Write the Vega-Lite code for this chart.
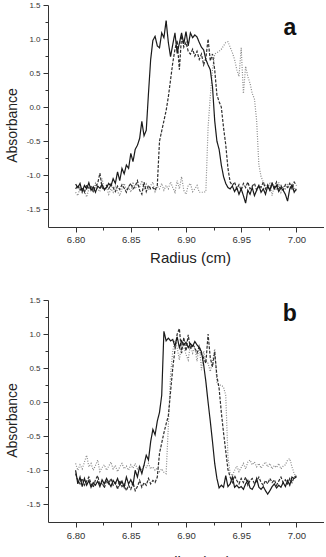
{
  "$schema": "https://vega.github.io/schema/vega-lite/v6.json",
  "background": "white",
  "padding": {"left": 5, "top": 1, "right": 0, "bottom": 0},
  "spacing": 73,
  "bounds": "flush",
  "config": {
    "view": {"stroke": null},
    "font": "Liberation Sans",
    "axis": {
      "grid": false,
      "domainColor": "#333333",
      "tickColor": "#333333",
      "labelColor": "#333333",
      "titleColor": "#222222",
      "labelFont": "Liberation Sans",
      "titleFont": "Liberation Sans",
      "titleFontWeight": "normal",
      "domainWidth": 1,
      "tickWidth": 1,
      "labelFlush": false,
      "labelOverlap": false
    }
  },
  "datasets": {
    "scans": [
      {"p":"a","s":"dotted","r":6.800,"v":-1.25},{"p":"a","s":"dotted","r":6.802,"v":-1.30},{"p":"a","s":"dotted","r":6.804,"v":-1.18},{"p":"a","s":"dotted","r":6.806,"v":-1.26},{"p":"a","s":"dotted","r":6.808,"v":-1.22},{"p":"a","s":"dotted","r":6.810,"v":-1.32},{"p":"a","s":"dotted","r":6.812,"v":-1.20},{"p":"a","s":"dotted","r":6.814,"v":-1.15},{"p":"a","s":"dotted","r":6.816,"v":-1.25},{"p":"a","s":"dotted","r":6.818,"v":-1.12},
      {"p":"a","s":"dotted","r":6.820,"v":-1.20},{"p":"a","s":"dotted","r":6.822,"v":-1.24},{"p":"a","s":"dotted","r":6.824,"v":-1.05},{"p":"a","s":"dotted","r":6.826,"v":-1.22},{"p":"a","s":"dotted","r":6.828,"v":-1.18},{"p":"a","s":"dotted","r":6.830,"v":-1.28},{"p":"a","s":"dotted","r":6.832,"v":-1.20},{"p":"a","s":"dotted","r":6.834,"v":-1.25},{"p":"a","s":"dotted","r":6.836,"v":-1.15},{"p":"a","s":"dotted","r":6.838,"v":-1.24},
      {"p":"a","s":"dotted","r":6.840,"v":-1.30},{"p":"a","s":"dotted","r":6.842,"v":-1.20},{"p":"a","s":"dotted","r":6.844,"v":-1.12},{"p":"a","s":"dotted","r":6.846,"v":-1.22},{"p":"a","s":"dotted","r":6.848,"v":-1.17},{"p":"a","s":"dotted","r":6.850,"v":-1.25},{"p":"a","s":"dotted","r":6.852,"v":-1.10},{"p":"a","s":"dotted","r":6.854,"v":-1.20},{"p":"a","s":"dotted","r":6.856,"v":-1.14},{"p":"a","s":"dotted","r":6.858,"v":-1.18},
      {"p":"a","s":"dotted","r":6.860,"v":-1.08},{"p":"a","s":"dotted","r":6.862,"v":-1.20},{"p":"a","s":"dotted","r":6.864,"v":-1.13},{"p":"a","s":"dotted","r":6.866,"v":-1.22},{"p":"a","s":"dotted","r":6.868,"v":-1.15},{"p":"a","s":"dotted","r":6.870,"v":-1.10},{"p":"a","s":"dotted","r":6.872,"v":-1.24},{"p":"a","s":"dotted","r":6.874,"v":-1.16},{"p":"a","s":"dotted","r":6.876,"v":-1.20},{"p":"a","s":"dotted","r":6.878,"v":-1.12},
      {"p":"a","s":"dotted","r":6.880,"v":-1.22},{"p":"a","s":"dotted","r":6.882,"v":-1.15},{"p":"a","s":"dotted","r":6.884,"v":-1.20},{"p":"a","s":"dotted","r":6.886,"v":-1.10},{"p":"a","s":"dotted","r":6.888,"v":-1.18},{"p":"a","s":"dotted","r":6.890,"v":-1.25},{"p":"a","s":"dotted","r":6.892,"v":-1.08},{"p":"a","s":"dotted","r":6.894,"v":-1.20},{"p":"a","s":"dotted","r":6.896,"v":-1.02},{"p":"a","s":"dotted","r":6.898,"v":-1.22},
      {"p":"a","s":"dotted","r":6.900,"v":-1.28},{"p":"a","s":"dotted","r":6.902,"v":-1.15},{"p":"a","s":"dotted","r":6.904,"v":-1.12},{"p":"a","s":"dotted","r":6.906,"v":-1.24},{"p":"a","s":"dotted","r":6.908,"v":-1.20},{"p":"a","s":"dotted","r":6.910,"v":-1.15},{"p":"a","s":"dotted","r":6.912,"v":-1.25},{"p":"a","s":"dotted","r":6.914,"v":-1.25},{"p":"a","s":"dotted","r":6.916,"v":-1.25},{"p":"a","s":"dotted","r":6.918,"v":-1.24},
      {"p":"a","s":"dotted","r":6.920,"v":-0.30},{"p":"a","s":"dotted","r":6.922,"v":0.16},{"p":"a","s":"dotted","r":6.924,"v":0.55},{"p":"a","s":"dotted","r":6.926,"v":0.78},{"p":"a","s":"dotted","r":6.928,"v":0.80},{"p":"a","s":"dotted","r":6.930,"v":0.82},{"p":"a","s":"dotted","r":6.932,"v":0.85},{"p":"a","s":"dotted","r":6.934,"v":0.90},{"p":"a","s":"dotted","r":6.936,"v":0.95},{"p":"a","s":"dotted","r":6.938,"v":0.96},
      {"p":"a","s":"dotted","r":6.940,"v":0.88},{"p":"a","s":"dotted","r":6.942,"v":0.80},{"p":"a","s":"dotted","r":6.944,"v":0.70},{"p":"a","s":"dotted","r":6.946,"v":0.55},{"p":"a","s":"dotted","r":6.948,"v":0.45},{"p":"a","s":"dotted","r":6.950,"v":0.87},{"p":"a","s":"dotted","r":6.952,"v":0.20},{"p":"a","s":"dotted","r":6.954,"v":0.60},{"p":"a","s":"dotted","r":6.956,"v":0.45},{"p":"a","s":"dotted","r":6.958,"v":0.35},
      {"p":"a","s":"dotted","r":6.960,"v":0.20},{"p":"a","s":"dotted","r":6.962,"v":0.12},{"p":"a","s":"dotted","r":6.964,"v":-0.20},{"p":"a","s":"dotted","r":6.966,"v":-0.85},{"p":"a","s":"dotted","r":6.968,"v":-1.02},{"p":"a","s":"dotted","r":6.970,"v":-1.10},{"p":"a","s":"dotted","r":6.972,"v":-1.15},{"p":"a","s":"dotted","r":6.974,"v":-1.18},{"p":"a","s":"dotted","r":6.976,"v":-1.12},{"p":"a","s":"dotted","r":6.978,"v":-1.30},
      {"p":"a","s":"dotted","r":6.980,"v":-1.15},{"p":"a","s":"dotted","r":6.982,"v":-1.22},{"p":"a","s":"dotted","r":6.984,"v":-1.10},{"p":"a","s":"dotted","r":6.986,"v":-1.25},{"p":"a","s":"dotted","r":6.988,"v":-1.16},{"p":"a","s":"dotted","r":6.990,"v":-1.20},{"p":"a","s":"dotted","r":6.992,"v":-1.12},{"p":"a","s":"dotted","r":6.994,"v":-1.22},{"p":"a","s":"dotted","r":6.996,"v":-1.15},{"p":"a","s":"dotted","r":6.998,"v":-1.18},
      {"p":"a","s":"dotted","r":7.000,"v":-1.24},

      {"p":"a","s":"dashed","r":6.800,"v":-1.20},{"p":"a","s":"dashed","r":6.802,"v":-1.15},{"p":"a","s":"dashed","r":6.804,"v":-1.22},{"p":"a","s":"dashed","r":6.806,"v":-1.18},{"p":"a","s":"dashed","r":6.808,"v":-1.25},{"p":"a","s":"dashed","r":6.810,"v":-1.14},{"p":"a","s":"dashed","r":6.812,"v":-1.20},{"p":"a","s":"dashed","r":6.814,"v":-1.17},{"p":"a","s":"dashed","r":6.816,"v":-1.24},{"p":"a","s":"dashed","r":6.818,"v":-1.16},
      {"p":"a","s":"dashed","r":6.820,"v":-1.12},{"p":"a","s":"dashed","r":6.822,"v":-0.97},{"p":"a","s":"dashed","r":6.824,"v":-1.18},{"p":"a","s":"dashed","r":6.826,"v":-1.22},{"p":"a","s":"dashed","r":6.828,"v":-1.15},{"p":"a","s":"dashed","r":6.830,"v":-1.20},{"p":"a","s":"dashed","r":6.832,"v":-1.13},{"p":"a","s":"dashed","r":6.834,"v":-1.18},{"p":"a","s":"dashed","r":6.836,"v":-1.24},{"p":"a","s":"dashed","r":6.838,"v":-1.16},
      {"p":"a","s":"dashed","r":6.840,"v":-1.21},{"p":"a","s":"dashed","r":6.842,"v":-1.14},{"p":"a","s":"dashed","r":6.844,"v":-1.19},{"p":"a","s":"dashed","r":6.846,"v":-1.25},{"p":"a","s":"dashed","r":6.848,"v":-1.17},{"p":"a","s":"dashed","r":6.850,"v":-1.12},{"p":"a","s":"dashed","r":6.852,"v":-1.20},{"p":"a","s":"dashed","r":6.854,"v":-1.16},{"p":"a","s":"dashed","r":6.856,"v":-1.08},{"p":"a","s":"dashed","r":6.858,"v":-1.22},
      {"p":"a","s":"dashed","r":6.860,"v":-1.28},{"p":"a","s":"dashed","r":6.862,"v":-1.10},{"p":"a","s":"dashed","r":6.864,"v":-1.24},{"p":"a","s":"dashed","r":6.866,"v":-1.15},{"p":"a","s":"dashed","r":6.868,"v":-1.20},{"p":"a","s":"dashed","r":6.870,"v":-1.18},{"p":"a","s":"dashed","r":6.872,"v":-1.22},{"p":"a","s":"dashed","r":6.874,"v":-1.15},{"p":"a","s":"dashed","r":6.876,"v":-0.50},{"p":"a","s":"dashed","r":6.878,"v":-0.35},
      {"p":"a","s":"dashed","r":6.880,"v":-0.20},{"p":"a","s":"dashed","r":6.882,"v":-0.05},{"p":"a","s":"dashed","r":6.884,"v":0.15},{"p":"a","s":"dashed","r":6.886,"v":0.40},{"p":"a","s":"dashed","r":6.888,"v":0.65},{"p":"a","s":"dashed","r":6.890,"v":0.85},{"p":"a","s":"dashed","r":6.892,"v":0.98},{"p":"a","s":"dashed","r":6.894,"v":0.55},{"p":"a","s":"dashed","r":6.896,"v":1.05},{"p":"a","s":"dashed","r":6.898,"v":0.88},
      {"p":"a","s":"dashed","r":6.900,"v":0.95},{"p":"a","s":"dashed","r":6.902,"v":0.82},{"p":"a","s":"dashed","r":6.904,"v":0.78},{"p":"a","s":"dashed","r":6.906,"v":0.85},{"p":"a","s":"dashed","r":6.908,"v":0.75},{"p":"a","s":"dashed","r":6.910,"v":0.82},{"p":"a","s":"dashed","r":6.912,"v":0.70},{"p":"a","s":"dashed","r":6.914,"v":0.78},{"p":"a","s":"dashed","r":6.916,"v":0.62},{"p":"a","s":"dashed","r":6.918,"v":0.72},
      {"p":"a","s":"dashed","r":6.920,"v":1.00},{"p":"a","s":"dashed","r":6.922,"v":0.68},{"p":"a","s":"dashed","r":6.924,"v":0.78},{"p":"a","s":"dashed","r":6.926,"v":0.55},{"p":"a","s":"dashed","r":6.928,"v":0.18},{"p":"a","s":"dashed","r":6.930,"v":0.08},{"p":"a","s":"dashed","r":6.932,"v":0.00},{"p":"a","s":"dashed","r":6.934,"v":-0.30},{"p":"a","s":"dashed","r":6.936,"v":-0.55},{"p":"a","s":"dashed","r":6.938,"v":-0.90},
      {"p":"a","s":"dashed","r":6.940,"v":-1.10},{"p":"a","s":"dashed","r":6.942,"v":-1.15},{"p":"a","s":"dashed","r":6.944,"v":-1.10},{"p":"a","s":"dashed","r":6.946,"v":-1.20},{"p":"a","s":"dashed","r":6.948,"v":-1.14},{"p":"a","s":"dashed","r":6.950,"v":-1.22},{"p":"a","s":"dashed","r":6.952,"v":-1.12},{"p":"a","s":"dashed","r":6.954,"v":-1.18},{"p":"a","s":"dashed","r":6.956,"v":-1.10},{"p":"a","s":"dashed","r":6.958,"v":-1.20},
      {"p":"a","s":"dashed","r":6.960,"v":-1.16},{"p":"a","s":"dashed","r":6.962,"v":-1.12},{"p":"a","s":"dashed","r":6.964,"v":-1.22},{"p":"a","s":"dashed","r":6.966,"v":-1.15},{"p":"a","s":"dashed","r":6.968,"v":-1.18},{"p":"a","s":"dashed","r":6.970,"v":-1.10},{"p":"a","s":"dashed","r":6.972,"v":-1.20},{"p":"a","s":"dashed","r":6.974,"v":-1.14},{"p":"a","s":"dashed","r":6.976,"v":-1.22},{"p":"a","s":"dashed","r":6.978,"v":-1.12},
      {"p":"a","s":"dashed","r":6.980,"v":-1.18},{"p":"a","s":"dashed","r":6.982,"v":-1.10},{"p":"a","s":"dashed","r":6.984,"v":-1.20},{"p":"a","s":"dashed","r":6.986,"v":-1.15},{"p":"a","s":"dashed","r":6.988,"v":-1.22},{"p":"a","s":"dashed","r":6.990,"v":-1.14},{"p":"a","s":"dashed","r":6.992,"v":-1.18},{"p":"a","s":"dashed","r":6.994,"v":-1.12},{"p":"a","s":"dashed","r":6.996,"v":-1.20},{"p":"a","s":"dashed","r":6.998,"v":-1.10},
      {"p":"a","s":"dashed","r":7.000,"v":-1.15},

      {"p":"a","s":"solid","r":6.800,"v":-1.13},{"p":"a","s":"solid","r":6.802,"v":-1.18},{"p":"a","s":"solid","r":6.804,"v":-1.12},{"p":"a","s":"solid","r":6.806,"v":-1.24},{"p":"a","s":"solid","r":6.808,"v":-1.15},{"p":"a","s":"solid","r":6.810,"v":-1.20},{"p":"a","s":"solid","r":6.812,"v":-1.11},{"p":"a","s":"solid","r":6.814,"v":-1.22},{"p":"a","s":"solid","r":6.816,"v":-1.17},{"p":"a","s":"solid","r":6.818,"v":-1.25},
      {"p":"a","s":"solid","r":6.820,"v":-1.16},{"p":"a","s":"solid","r":6.822,"v":-1.19},{"p":"a","s":"solid","r":6.824,"v":-1.14},{"p":"a","s":"solid","r":6.826,"v":-1.21},{"p":"a","s":"solid","r":6.828,"v":-1.18},{"p":"a","s":"solid","r":6.830,"v":-1.12},{"p":"a","s":"solid","r":6.832,"v":-1.16},{"p":"a","s":"solid","r":6.834,"v":-1.05},{"p":"a","s":"solid","r":6.836,"v":-1.12},{"p":"a","s":"solid","r":6.838,"v":-0.95},
      {"p":"a","s":"solid","r":6.840,"v":-1.08},{"p":"a","s":"solid","r":6.842,"v":-0.90},{"p":"a","s":"solid","r":6.844,"v":-0.98},{"p":"a","s":"solid","r":6.846,"v":-0.85},{"p":"a","s":"solid","r":6.848,"v":-0.90},{"p":"a","s":"solid","r":6.850,"v":-0.68},{"p":"a","s":"solid","r":6.852,"v":-0.80},{"p":"a","s":"solid","r":6.854,"v":-0.62},{"p":"a","s":"solid","r":6.856,"v":-0.56},{"p":"a","s":"solid","r":6.858,"v":-0.46},
      {"p":"a","s":"solid","r":6.860,"v":-0.21},{"p":"a","s":"solid","r":6.862,"v":-0.42},{"p":"a","s":"solid","r":6.864,"v":-0.34},{"p":"a","s":"solid","r":6.866,"v":0.20},{"p":"a","s":"solid","r":6.868,"v":0.70},{"p":"a","s":"solid","r":6.870,"v":0.98},{"p":"a","s":"solid","r":6.872,"v":1.04},{"p":"a","s":"solid","r":6.874,"v":0.90},{"p":"a","s":"solid","r":6.876,"v":0.87},{"p":"a","s":"solid","r":6.878,"v":1.09},
      {"p":"a","s":"solid","r":6.880,"v":1.02},{"p":"a","s":"solid","r":6.882,"v":1.27},{"p":"a","s":"solid","r":6.884,"v":0.95},{"p":"a","s":"solid","r":6.886,"v":0.74},{"p":"a","s":"solid","r":6.888,"v":0.92},{"p":"a","s":"solid","r":6.890,"v":1.09},{"p":"a","s":"solid","r":6.892,"v":0.79},{"p":"a","s":"solid","r":6.894,"v":0.94},{"p":"a","s":"solid","r":6.896,"v":1.09},{"p":"a","s":"solid","r":6.898,"v":0.93},
      {"p":"a","s":"solid","r":6.900,"v":1.11},{"p":"a","s":"solid","r":6.902,"v":0.90},{"p":"a","s":"solid","r":6.904,"v":1.09},{"p":"a","s":"solid","r":6.906,"v":1.02},{"p":"a","s":"solid","r":6.908,"v":1.06},{"p":"a","s":"solid","r":6.910,"v":1.03},{"p":"a","s":"solid","r":6.912,"v":0.95},{"p":"a","s":"solid","r":6.914,"v":0.88},{"p":"a","s":"solid","r":6.916,"v":0.84},{"p":"a","s":"solid","r":6.918,"v":0.70},
      {"p":"a","s":"solid","r":6.920,"v":0.62},{"p":"a","s":"solid","r":6.922,"v":0.55},{"p":"a","s":"solid","r":6.924,"v":0.30},{"p":"a","s":"solid","r":6.926,"v":-0.20},{"p":"a","s":"solid","r":6.928,"v":-0.50},{"p":"a","s":"solid","r":6.930,"v":-0.62},{"p":"a","s":"solid","r":6.932,"v":-0.85},{"p":"a","s":"solid","r":6.934,"v":-1.02},{"p":"a","s":"solid","r":6.936,"v":-1.12},{"p":"a","s":"solid","r":6.938,"v":-1.18},
      {"p":"a","s":"solid","r":6.940,"v":-1.20},{"p":"a","s":"solid","r":6.942,"v":-1.16},{"p":"a","s":"solid","r":6.944,"v":-1.24},{"p":"a","s":"solid","r":6.946,"v":-1.18},{"p":"a","s":"solid","r":6.948,"v":-1.28},{"p":"a","s":"solid","r":6.950,"v":-1.20},{"p":"a","s":"solid","r":6.952,"v":-1.30},{"p":"a","s":"solid","r":6.954,"v":-1.41},{"p":"a","s":"solid","r":6.956,"v":-1.22},{"p":"a","s":"solid","r":6.958,"v":-1.28},
      {"p":"a","s":"solid","r":6.960,"v":-1.18},{"p":"a","s":"solid","r":6.962,"v":-1.30},{"p":"a","s":"solid","r":6.964,"v":-1.22},{"p":"a","s":"solid","r":6.966,"v":-1.15},{"p":"a","s":"solid","r":6.968,"v":-1.25},{"p":"a","s":"solid","r":6.970,"v":-1.20},{"p":"a","s":"solid","r":6.972,"v":-1.28},{"p":"a","s":"solid","r":6.974,"v":-1.16},{"p":"a","s":"solid","r":6.976,"v":-1.22},{"p":"a","s":"solid","r":6.978,"v":-1.12},
      {"p":"a","s":"solid","r":6.980,"v":-1.20},{"p":"a","s":"solid","r":6.982,"v":-1.15},{"p":"a","s":"solid","r":6.984,"v":-1.24},{"p":"a","s":"solid","r":6.986,"v":-1.18},{"p":"a","s":"solid","r":6.988,"v":-1.22},{"p":"a","s":"solid","r":6.990,"v":-1.28},{"p":"a","s":"solid","r":6.992,"v":-1.38},{"p":"a","s":"solid","r":6.994,"v":-1.20},{"p":"a","s":"solid","r":6.996,"v":-1.14},{"p":"a","s":"solid","r":6.998,"v":-1.25},
      {"p":"a","s":"solid","r":7.000,"v":-1.20},

      {"p":"b","s":"dotted","r":6.800,"v":-0.90},{"p":"b","s":"dotted","r":6.802,"v":-1.00},{"p":"b","s":"dotted","r":6.804,"v":-0.92},{"p":"b","s":"dotted","r":6.806,"v":-0.98},{"p":"b","s":"dotted","r":6.808,"v":-0.88},{"p":"b","s":"dotted","r":6.810,"v":-0.78},{"p":"b","s":"dotted","r":6.812,"v":-0.95},{"p":"b","s":"dotted","r":6.814,"v":-0.90},{"p":"b","s":"dotted","r":6.816,"v":-1.00},{"p":"b","s":"dotted","r":6.818,"v":-0.93},
      {"p":"b","s":"dotted","r":6.820,"v":-0.85},{"p":"b","s":"dotted","r":6.822,"v":-1.02},{"p":"b","s":"dotted","r":6.824,"v":-0.96},{"p":"b","s":"dotted","r":6.826,"v":-0.92},{"p":"b","s":"dotted","r":6.828,"v":-1.00},{"p":"b","s":"dotted","r":6.830,"v":-0.94},{"p":"b","s":"dotted","r":6.832,"v":-0.88},{"p":"b","s":"dotted","r":6.834,"v":-0.98},{"p":"b","s":"dotted","r":6.836,"v":-0.93},{"p":"b","s":"dotted","r":6.838,"v":-1.02},
      {"p":"b","s":"dotted","r":6.840,"v":-0.95},{"p":"b","s":"dotted","r":6.842,"v":-0.90},{"p":"b","s":"dotted","r":6.844,"v":-0.98},{"p":"b","s":"dotted","r":6.846,"v":-0.94},{"p":"b","s":"dotted","r":6.848,"v":-1.00},{"p":"b","s":"dotted","r":6.850,"v":-0.92},{"p":"b","s":"dotted","r":6.852,"v":-0.97},{"p":"b","s":"dotted","r":6.854,"v":-0.90},{"p":"b","s":"dotted","r":6.856,"v":-0.98},{"p":"b","s":"dotted","r":6.858,"v":-0.94},
      {"p":"b","s":"dotted","r":6.860,"v":-1.00},{"p":"b","s":"dotted","r":6.862,"v":-0.92},{"p":"b","s":"dotted","r":6.864,"v":-0.96},{"p":"b","s":"dotted","r":6.866,"v":-0.90},{"p":"b","s":"dotted","r":6.868,"v":-0.98},{"p":"b","s":"dotted","r":6.870,"v":-0.95},{"p":"b","s":"dotted","r":6.872,"v":-1.00},{"p":"b","s":"dotted","r":6.874,"v":-0.97},{"p":"b","s":"dotted","r":6.876,"v":-1.02},{"p":"b","s":"dotted","r":6.878,"v":-0.98},
      {"p":"b","s":"dotted","r":6.880,"v":-1.03},{"p":"b","s":"dotted","r":6.882,"v":-1.05},{"p":"b","s":"dotted","r":6.884,"v":-0.35},{"p":"b","s":"dotted","r":6.886,"v":0.40},{"p":"b","s":"dotted","r":6.888,"v":0.75},{"p":"b","s":"dotted","r":6.890,"v":0.91},{"p":"b","s":"dotted","r":6.892,"v":0.80},{"p":"b","s":"dotted","r":6.894,"v":0.62},{"p":"b","s":"dotted","r":6.896,"v":0.85},{"p":"b","s":"dotted","r":6.898,"v":0.81},
      {"p":"b","s":"dotted","r":6.900,"v":0.70},{"p":"b","s":"dotted","r":6.902,"v":0.62},{"p":"b","s":"dotted","r":6.904,"v":0.85},{"p":"b","s":"dotted","r":6.906,"v":0.72},{"p":"b","s":"dotted","r":6.908,"v":0.80},{"p":"b","s":"dotted","r":6.910,"v":0.60},{"p":"b","s":"dotted","r":6.912,"v":0.85},{"p":"b","s":"dotted","r":6.914,"v":0.47},{"p":"b","s":"dotted","r":6.916,"v":0.75},{"p":"b","s":"dotted","r":6.918,"v":0.60},
      {"p":"b","s":"dotted","r":6.920,"v":0.57},{"p":"b","s":"dotted","r":6.922,"v":0.45},{"p":"b","s":"dotted","r":6.924,"v":0.60},{"p":"b","s":"dotted","r":6.926,"v":0.78},{"p":"b","s":"dotted","r":6.928,"v":0.28},{"p":"b","s":"dotted","r":6.930,"v":0.25},{"p":"b","s":"dotted","r":6.932,"v":0.25},{"p":"b","s":"dotted","r":6.934,"v":0.22},{"p":"b","s":"dotted","r":6.936,"v":0.10},{"p":"b","s":"dotted","r":6.938,"v":-0.80},
      {"p":"b","s":"dotted","r":6.940,"v":-1.05},{"p":"b","s":"dotted","r":6.942,"v":-1.08},{"p":"b","s":"dotted","r":6.944,"v":-1.00},{"p":"b","s":"dotted","r":6.946,"v":-0.94},{"p":"b","s":"dotted","r":6.948,"v":-1.02},{"p":"b","s":"dotted","r":6.950,"v":-0.96},{"p":"b","s":"dotted","r":6.952,"v":-0.90},{"p":"b","s":"dotted","r":6.954,"v":-0.98},{"p":"b","s":"dotted","r":6.956,"v":-0.88},{"p":"b","s":"dotted","r":6.958,"v":-0.85},
      {"p":"b","s":"dotted","r":6.960,"v":-0.92},{"p":"b","s":"dotted","r":6.962,"v":-0.88},{"p":"b","s":"dotted","r":6.964,"v":-0.95},{"p":"b","s":"dotted","r":6.966,"v":-0.90},{"p":"b","s":"dotted","r":6.968,"v":-0.97},{"p":"b","s":"dotted","r":6.970,"v":-0.92},{"p":"b","s":"dotted","r":6.972,"v":-0.88},{"p":"b","s":"dotted","r":6.974,"v":-0.95},{"p":"b","s":"dotted","r":6.976,"v":-0.90},{"p":"b","s":"dotted","r":6.978,"v":-0.98},
      {"p":"b","s":"dotted","r":6.980,"v":-0.93},{"p":"b","s":"dotted","r":6.982,"v":-0.96},{"p":"b","s":"dotted","r":6.984,"v":-0.90},{"p":"b","s":"dotted","r":6.986,"v":-0.98},{"p":"b","s":"dotted","r":6.988,"v":-0.94},{"p":"b","s":"dotted","r":6.990,"v":-0.92},{"p":"b","s":"dotted","r":6.992,"v":-0.85},{"p":"b","s":"dotted","r":6.994,"v":-0.83},{"p":"b","s":"dotted","r":6.996,"v":-0.95},{"p":"b","s":"dotted","r":6.998,"v":-1.05},
      {"p":"b","s":"dotted","r":7.000,"v":-1.10},

      {"p":"b","s":"dashed","r":6.800,"v":-1.05},{"p":"b","s":"dashed","r":6.802,"v":-1.15},{"p":"b","s":"dashed","r":6.804,"v":-1.20},{"p":"b","s":"dashed","r":6.806,"v":-1.12},{"p":"b","s":"dashed","r":6.808,"v":-1.22},{"p":"b","s":"dashed","r":6.810,"v":-1.16},{"p":"b","s":"dashed","r":6.812,"v":-1.10},{"p":"b","s":"dashed","r":6.814,"v":-1.20},{"p":"b","s":"dashed","r":6.816,"v":-1.25},{"p":"b","s":"dashed","r":6.818,"v":-1.14},
      {"p":"b","s":"dashed","r":6.820,"v":-1.08},{"p":"b","s":"dashed","r":6.822,"v":-1.22},{"p":"b","s":"dashed","r":6.824,"v":-1.18},{"p":"b","s":"dashed","r":6.826,"v":-1.26},{"p":"b","s":"dashed","r":6.828,"v":-1.15},{"p":"b","s":"dashed","r":6.830,"v":-1.20},{"p":"b","s":"dashed","r":6.832,"v":-1.12},{"p":"b","s":"dashed","r":6.834,"v":-1.22},{"p":"b","s":"dashed","r":6.836,"v":-1.18},{"p":"b","s":"dashed","r":6.838,"v":-1.28},
      {"p":"b","s":"dashed","r":6.840,"v":-1.15},{"p":"b","s":"dashed","r":6.842,"v":-1.24},{"p":"b","s":"dashed","r":6.844,"v":-1.20},{"p":"b","s":"dashed","r":6.846,"v":-1.30},{"p":"b","s":"dashed","r":6.848,"v":-1.22},{"p":"b","s":"dashed","r":6.850,"v":-1.28},{"p":"b","s":"dashed","r":6.852,"v":-1.18},{"p":"b","s":"dashed","r":6.854,"v":-1.30},{"p":"b","s":"dashed","r":6.856,"v":-1.24},{"p":"b","s":"dashed","r":6.858,"v":-1.15},
      {"p":"b","s":"dashed","r":6.860,"v":-1.25},{"p":"b","s":"dashed","r":6.862,"v":-1.18},{"p":"b","s":"dashed","r":6.864,"v":-1.22},{"p":"b","s":"dashed","r":6.866,"v":-1.12},{"p":"b","s":"dashed","r":6.868,"v":-1.20},{"p":"b","s":"dashed","r":6.870,"v":-1.15},{"p":"b","s":"dashed","r":6.872,"v":-1.18},{"p":"b","s":"dashed","r":6.874,"v":-1.10},{"p":"b","s":"dashed","r":6.876,"v":-0.75},{"p":"b","s":"dashed","r":6.878,"v":-0.60},
      {"p":"b","s":"dashed","r":6.880,"v":-0.45},{"p":"b","s":"dashed","r":6.882,"v":-0.32},{"p":"b","s":"dashed","r":6.884,"v":-0.20},{"p":"b","s":"dashed","r":6.886,"v":0.15},{"p":"b","s":"dashed","r":6.888,"v":0.50},{"p":"b","s":"dashed","r":6.890,"v":0.77},{"p":"b","s":"dashed","r":6.892,"v":1.00},{"p":"b","s":"dashed","r":6.894,"v":1.08},{"p":"b","s":"dashed","r":6.896,"v":0.72},{"p":"b","s":"dashed","r":6.898,"v":0.95},
      {"p":"b","s":"dashed","r":6.900,"v":0.75},{"p":"b","s":"dashed","r":6.902,"v":0.99},{"p":"b","s":"dashed","r":6.904,"v":0.78},{"p":"b","s":"dashed","r":6.906,"v":0.85},{"p":"b","s":"dashed","r":6.908,"v":0.80},{"p":"b","s":"dashed","r":6.910,"v":0.72},{"p":"b","s":"dashed","r":6.912,"v":0.82},{"p":"b","s":"dashed","r":6.914,"v":0.70},{"p":"b","s":"dashed","r":6.916,"v":0.65},{"p":"b","s":"dashed","r":6.918,"v":0.57},
      {"p":"b","s":"dashed","r":6.920,"v":1.00},{"p":"b","s":"dashed","r":6.922,"v":0.65},{"p":"b","s":"dashed","r":6.924,"v":0.52},{"p":"b","s":"dashed","r":6.926,"v":0.74},{"p":"b","s":"dashed","r":6.928,"v":0.38},{"p":"b","s":"dashed","r":6.930,"v":0.20},{"p":"b","s":"dashed","r":6.932,"v":-0.15},{"p":"b","s":"dashed","r":6.934,"v":-0.45},{"p":"b","s":"dashed","r":6.936,"v":-0.72},{"p":"b","s":"dashed","r":6.938,"v":-0.99},
      {"p":"b","s":"dashed","r":6.940,"v":-1.10},{"p":"b","s":"dashed","r":6.942,"v":-1.18},{"p":"b","s":"dashed","r":6.944,"v":-1.08},{"p":"b","s":"dashed","r":6.946,"v":-1.15},{"p":"b","s":"dashed","r":6.948,"v":-1.20},{"p":"b","s":"dashed","r":6.950,"v":-1.12},{"p":"b","s":"dashed","r":6.952,"v":-1.18},{"p":"b","s":"dashed","r":6.954,"v":-1.10},{"p":"b","s":"dashed","r":6.956,"v":-1.22},{"p":"b","s":"dashed","r":6.958,"v":-1.15},
      {"p":"b","s":"dashed","r":6.960,"v":-1.12},{"p":"b","s":"dashed","r":6.962,"v":-1.20},{"p":"b","s":"dashed","r":6.964,"v":-1.16},{"p":"b","s":"dashed","r":6.966,"v":-1.10},{"p":"b","s":"dashed","r":6.968,"v":-1.18},{"p":"b","s":"dashed","r":6.970,"v":-1.22},{"p":"b","s":"dashed","r":6.972,"v":-1.15},{"p":"b","s":"dashed","r":6.974,"v":-1.20},{"p":"b","s":"dashed","r":6.976,"v":-1.12},{"p":"b","s":"dashed","r":6.978,"v":-1.18},
      {"p":"b","s":"dashed","r":6.980,"v":-1.14},{"p":"b","s":"dashed","r":6.982,"v":-1.22},{"p":"b","s":"dashed","r":6.984,"v":-1.16},{"p":"b","s":"dashed","r":6.986,"v":-1.10},{"p":"b","s":"dashed","r":6.988,"v":-1.18},{"p":"b","s":"dashed","r":6.990,"v":-1.14},{"p":"b","s":"dashed","r":6.992,"v":-1.20},{"p":"b","s":"dashed","r":6.994,"v":-1.12},{"p":"b","s":"dashed","r":6.996,"v":-1.18},{"p":"b","s":"dashed","r":6.998,"v":-1.10},
      {"p":"b","s":"dashed","r":7.000,"v":-1.08},

      {"p":"b","s":"solid","r":6.800,"v":-1.00},{"p":"b","s":"solid","r":6.802,"v":-1.20},{"p":"b","s":"solid","r":6.804,"v":-1.10},{"p":"b","s":"solid","r":6.806,"v":-1.24},{"p":"b","s":"solid","r":6.808,"v":-1.12},{"p":"b","s":"solid","r":6.810,"v":-1.22},{"p":"b","s":"solid","r":6.812,"v":-1.15},{"p":"b","s":"solid","r":6.814,"v":-1.25},{"p":"b","s":"solid","r":6.816,"v":-1.18},{"p":"b","s":"solid","r":6.818,"v":-1.22},
      {"p":"b","s":"solid","r":6.820,"v":-1.16},{"p":"b","s":"solid","r":6.822,"v":-1.24},{"p":"b","s":"solid","r":6.824,"v":-1.14},{"p":"b","s":"solid","r":6.826,"v":-1.20},{"p":"b","s":"solid","r":6.828,"v":-1.12},{"p":"b","s":"solid","r":6.830,"v":-1.18},{"p":"b","s":"solid","r":6.832,"v":-1.24},{"p":"b","s":"solid","r":6.834,"v":-1.15},{"p":"b","s":"solid","r":6.836,"v":-1.20},{"p":"b","s":"solid","r":6.838,"v":-1.12},
      {"p":"b","s":"solid","r":6.840,"v":-1.22},{"p":"b","s":"solid","r":6.842,"v":-1.16},{"p":"b","s":"solid","r":6.844,"v":-1.25},{"p":"b","s":"solid","r":6.846,"v":-1.10},{"p":"b","s":"solid","r":6.848,"v":-1.20},{"p":"b","s":"solid","r":6.850,"v":-1.14},{"p":"b","s":"solid","r":6.852,"v":-1.22},{"p":"b","s":"solid","r":6.854,"v":-1.00},{"p":"b","s":"solid","r":6.856,"v":-1.10},{"p":"b","s":"solid","r":6.858,"v":-0.95},
      {"p":"b","s":"solid","r":6.860,"v":-1.05},{"p":"b","s":"solid","r":6.862,"v":-0.92},{"p":"b","s":"solid","r":6.864,"v":-0.78},{"p":"b","s":"solid","r":6.866,"v":-0.85},{"p":"b","s":"solid","r":6.868,"v":-0.58},{"p":"b","s":"solid","r":6.870,"v":-0.40},{"p":"b","s":"solid","r":6.872,"v":-0.48},{"p":"b","s":"solid","r":6.874,"v":-0.28},{"p":"b","s":"solid","r":6.876,"v":-0.15},{"p":"b","s":"solid","r":6.878,"v":0.10},
      {"p":"b","s":"solid","r":6.880,"v":1.04},{"p":"b","s":"solid","r":6.882,"v":0.90},{"p":"b","s":"solid","r":6.884,"v":0.94},{"p":"b","s":"solid","r":6.886,"v":0.90},{"p":"b","s":"solid","r":6.888,"v":0.92},{"p":"b","s":"solid","r":6.890,"v":0.82},{"p":"b","s":"solid","r":6.892,"v":0.96},{"p":"b","s":"solid","r":6.894,"v":0.80},{"p":"b","s":"solid","r":6.896,"v":0.90},{"p":"b","s":"solid","r":6.898,"v":0.84},
      {"p":"b","s":"solid","r":6.900,"v":0.88},{"p":"b","s":"solid","r":6.902,"v":0.80},{"p":"b","s":"solid","r":6.904,"v":0.86},{"p":"b","s":"solid","r":6.906,"v":0.82},{"p":"b","s":"solid","r":6.908,"v":0.89},{"p":"b","s":"solid","r":6.910,"v":0.84},{"p":"b","s":"solid","r":6.912,"v":0.80},{"p":"b","s":"solid","r":6.914,"v":0.74},{"p":"b","s":"solid","r":6.916,"v":0.55},{"p":"b","s":"solid","r":6.918,"v":0.30},
      {"p":"b","s":"solid","r":6.920,"v":0.00},{"p":"b","s":"solid","r":6.922,"v":-0.28},{"p":"b","s":"solid","r":6.924,"v":-0.58},{"p":"b","s":"solid","r":6.926,"v":-0.90},{"p":"b","s":"solid","r":6.928,"v":-1.12},{"p":"b","s":"solid","r":6.930,"v":-1.26},{"p":"b","s":"solid","r":6.932,"v":-1.22},{"p":"b","s":"solid","r":6.934,"v":-1.25},{"p":"b","s":"solid","r":6.936,"v":-1.08},{"p":"b","s":"solid","r":6.938,"v":-1.24},
      {"p":"b","s":"solid","r":6.940,"v":-1.20},{"p":"b","s":"solid","r":6.942,"v":-1.10},{"p":"b","s":"solid","r":6.944,"v":-1.25},{"p":"b","s":"solid","r":6.946,"v":-1.22},{"p":"b","s":"solid","r":6.948,"v":-1.26},{"p":"b","s":"solid","r":6.950,"v":-1.24},{"p":"b","s":"solid","r":6.952,"v":-1.28},{"p":"b","s":"solid","r":6.954,"v":-1.20},{"p":"b","s":"solid","r":6.956,"v":-1.15},{"p":"b","s":"solid","r":6.958,"v":-1.26},
      {"p":"b","s":"solid","r":6.960,"v":-1.28},{"p":"b","s":"solid","r":6.962,"v":-1.22},{"p":"b","s":"solid","r":6.964,"v":-1.12},{"p":"b","s":"solid","r":6.966,"v":-1.25},{"p":"b","s":"solid","r":6.968,"v":-1.28},{"p":"b","s":"solid","r":6.970,"v":-1.24},{"p":"b","s":"solid","r":6.972,"v":-1.30},{"p":"b","s":"solid","r":6.974,"v":-1.35},{"p":"b","s":"solid","r":6.976,"v":-1.30},{"p":"b","s":"solid","r":6.978,"v":-1.24},
      {"p":"b","s":"solid","r":6.980,"v":-1.20},{"p":"b","s":"solid","r":6.982,"v":-1.26},{"p":"b","s":"solid","r":6.984,"v":-1.22},{"p":"b","s":"solid","r":6.986,"v":-1.25},{"p":"b","s":"solid","r":6.988,"v":-1.18},{"p":"b","s":"solid","r":6.990,"v":-1.24},{"p":"b","s":"solid","r":6.992,"v":-1.15},{"p":"b","s":"solid","r":6.994,"v":-1.22},{"p":"b","s":"solid","r":6.996,"v":-1.10},{"p":"b","s":"solid","r":6.998,"v":-1.12},
      {"p":"b","s":"solid","r":7.000,"v":-1.10}
    ]
  },
  "vconcat": [
    {
      "width": 276,
      "height": 222,
      "resolve": {"axis": {"x": "independent", "y": "independent"}},
      "layer": [
        {
          "data": {"name": "scans"},
          "transform": [{"filter": "datum.p === 'a'"}],
          "mark": {"type": "line", "strokeWidth": 1.2},
          "encoding": {
            "x": {
              "field": "r", "type": "quantitative",
              "scale": {"domain": [6.775, 7.025], "nice": false, "zero": false},
              "axis": {
                "orient": "bottom",
                "values": [6.8, 6.85, 6.9, 6.95, 7.0],
                "format": ".2f",
                "tickSize": 5,
                "labelFontSize": 9.5, "labelPadding": 2,
                "title": "Radius (cm)", "titleFontSize": 15,
                "titleX": 142, "titleY": 35, "titleAlign": "center", "titleBaseline": "alphabetic"
              }
            },
            "y": {
              "field": "v", "type": "quantitative",
              "scale": {"domain": [-1.76, 1.5], "nice": false, "zero": false},
              "axis": {
                "orient": "left",
                "values": [-1.5, -1, -0.5, 0, 0.5, 1, 1.5],
                "labelExpr": "replace(format(datum.value, '.1f'), '\u2212', '-')",
                "tickSize": 5,
                "labelFontSize": 8, "labelPadding": 3,
                "title": "Absorbance", "titleFontSize": 14, "titleAngle": -90,
                "titleX": -36, "titleY": 120, "titleAlign": "center", "titleBaseline": "middle"
              }
            },
            "strokeDash": {
              "field": "s", "type": "nominal",
              "scale": {"domain": ["solid", "dashed", "dotted"], "range": [[1, 0], [3, 1.5], [1, 1.5]]},
              "legend": null
            },
            "color": {
              "field": "s", "type": "nominal",
              "scale": {"domain": ["solid", "dashed", "dotted"], "range": ["#1a1a1a", "#2e2e2e", "#8a8a8a"]},
              "legend": null
            }
          }
        },
        {
          "data": {"values": [{}]},
          "mark": {"type": "text", "text": "a", "fontSize": 23, "fontWeight": "bold", "align": "center", "baseline": "alphabetic", "color": "#111111", "font": "Liberation Sans"},
          "encoding": {
            "x": {
              "datum": 6.994, "type": "quantitative",
              "axis": {"orient": "bottom", "values": [6.825, 6.875, 6.925, 6.975], "labels": false, "domain": false, "tickSize": 3, "title": null}
            },
            "y": {
              "datum": 1.06, "type": "quantitative",
              "axis": {"orient": "left", "values": [-1.25, -0.75, -0.25, 0.25, 0.75, 1.25], "labels": false, "domain": false, "tickSize": 3, "title": null}
            }
          }
        }
      ]
    },
    {
      "width": 276,
      "height": 222,
      "resolve": {"axis": {"x": "independent", "y": "independent"}},
      "layer": [
        {
          "data": {"name": "scans"},
          "transform": [{"filter": "datum.p === 'b'"}],
          "mark": {"type": "line", "strokeWidth": 1.2},
          "encoding": {
            "x": {
              "field": "r", "type": "quantitative",
              "scale": {"domain": [6.775, 7.025], "nice": false, "zero": false},
              "axis": {
                "orient": "bottom",
                "values": [6.8, 6.85, 6.9, 6.95, 7.0],
                "format": ".2f",
                "tickSize": 5,
                "labelFontSize": 9.5, "labelPadding": 3,
                "title": "Radius (cm)", "titleFontSize": 15,
                "titleX": 142, "titleY": 44, "titleAlign": "center", "titleBaseline": "alphabetic"
              }
            },
            "y": {
              "field": "v", "type": "quantitative",
              "scale": {"domain": [-1.76, 1.5], "nice": false, "zero": false},
              "axis": {
                "orient": "left",
                "values": [-1.5, -1, -0.5, 0, 0.5, 1, 1.5],
                "labelExpr": "replace(format(datum.value, '.1f'), '\u2212', '-')",
                "tickSize": 5,
                "labelFontSize": 8, "labelPadding": 3,
                "title": "Absorbance", "titleFontSize": 14, "titleAngle": -90,
                "titleX": -36, "titleY": 120, "titleAlign": "center", "titleBaseline": "middle"
              }
            },
            "strokeDash": {
              "field": "s", "type": "nominal",
              "scale": {"domain": ["solid", "dashed", "dotted"], "range": [[1, 0], [3, 1.5], [1, 1.5]]},
              "legend": null
            },
            "color": {
              "field": "s", "type": "nominal",
              "scale": {"domain": ["solid", "dashed", "dotted"], "range": ["#1a1a1a", "#2e2e2e", "#8a8a8a"]},
              "legend": null
            }
          }
        },
        {
          "data": {"values": [{}]},
          "mark": {"type": "text", "text": "b", "fontSize": 23, "fontWeight": "bold", "align": "center", "baseline": "alphabetic", "color": "#111111", "font": "Liberation Sans"},
          "encoding": {
            "x": {
              "datum": 6.994, "type": "quantitative",
              "axis": {"orient": "bottom", "values": [6.825, 6.875, 6.925, 6.975], "labels": false, "domain": false, "tickSize": 3, "title": null}
            },
            "y": {
              "datum": 1.19, "type": "quantitative",
              "axis": {"orient": "left", "values": [-1.25, -0.75, -0.25, 0.25, 0.75, 1.25], "labels": false, "domain": false, "tickSize": 3, "title": null}
            }
          }
        }
      ]
    }
  ]
}
